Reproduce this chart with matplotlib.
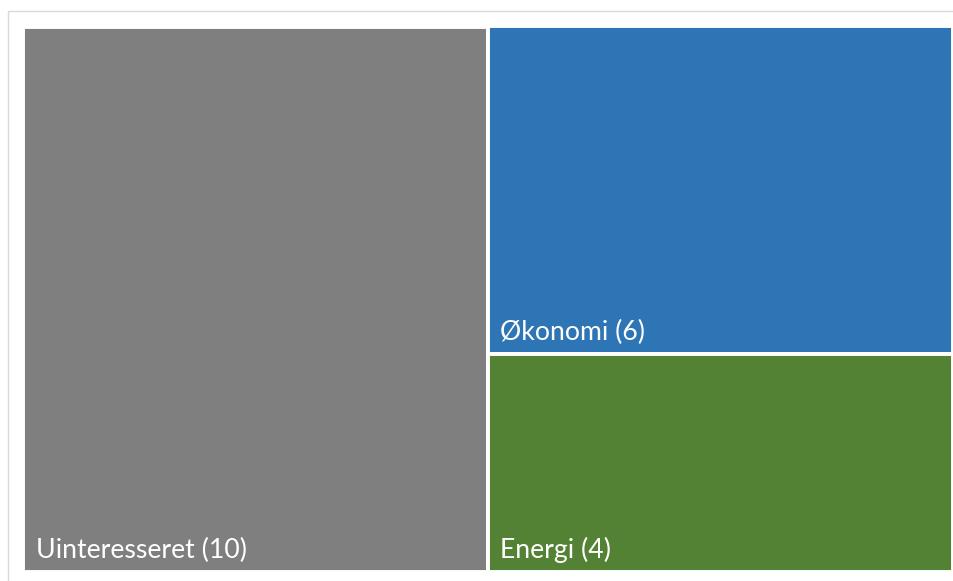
import matplotlib.pyplot as plt
from matplotlib.patches import Rectangle

# Data
kategorier = ['Uinteresseret', 'Økonomi', 'Energi']
vaerdier = [10, 6, 4]
farver = ['#7f7f7f', '#2e75b6', '#548235']

W, H = 954, 581
fig = plt.figure(figsize=(W / 100, H / 100), dpi=100)

# lys ramme rundt om diagrammet (går ud over billedets kant til højre og nederst)
fig.patches.append(Rectangle((8 / W, -0.1), 1.0, 1.1 - 11 / H, transform=fig.transFigure,
                             fill=False, edgecolor='#d9d9d9', linewidth=1.0))

ax = fig.add_axes([23.5 / W, 1 - 572 / H, 929.5 / W, 545.5 / H])
ax.set_xlim(0, 1)
ax.set_ylim(0, 1)
ax.axis('off')

# simpel treemap: første kategori til venstre, resten stablet til højre
total = sum(vaerdier)
bredde0 = vaerdier[0] / total
rects = [(0, 0, bredde0, 1)]
rest = sum(vaerdier[1:])
top = 1.0
for v in vaerdier[1:]:
    h = v / rest
    rects.append((bredde0, top - h, 1 - bredde0, h))
    top -= h

for (x, y, w, h), navn, v, c in zip(rects, kategorier, vaerdier, farver):
    ax.add_patch(Rectangle((x, y), w, h, facecolor=c, edgecolor='white', linewidth=2.8))
    ax.annotate(f'{navn} ({v})', xy=(x, y), xytext=(12, 14), textcoords='offset pixels',
                color='white', fontsize=19.2, family='Lato', ha='left', va='baseline')

fig.savefig('out.png', dpi=100)
